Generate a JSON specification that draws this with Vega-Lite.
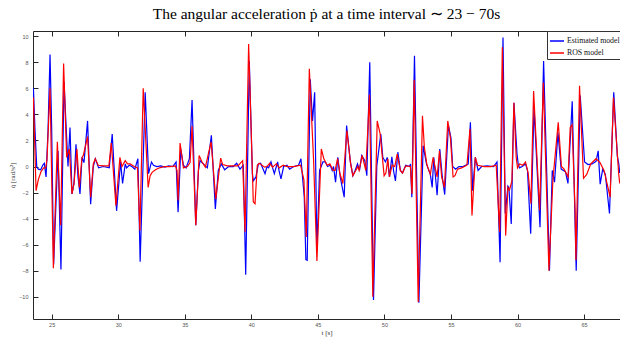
{
  "$schema": "https://vega.github.io/schema/vega-lite/v6.json",
  "autosize": "none",
  "width": 587,
  "height": 288,
  "padding": {"left": 33, "top": 31, "right": 0, "bottom": 21},
  "background": "white",
  "title": {"text": "The angular acceleration ṗ at a time interval ∼ 23 − 70s", "font": "Liberation Serif", "fontSize": 15.5, "fontWeight": "normal", "color": "black", "anchor": "middle", "offset": 8},
  "config": {"view": {"stroke": null}},
  "resolve": {"axis": {"x": "independent", "y": "independent"}},
  "layer": [
    {
      "data": {"values": [
        {"t":23.63,"v":6.0},{"t":23.75,"v":2.8},{"t":23.88,"v":0.0},{"t":24.0,"v":-0.2},{"t":24.18,"v":-0.25},{"t":24.33,"v":0.1},{"t":24.45,"v":0.25},{"t":24.58,"v":-0.8},{"t":24.73,"v":2.8},{"t":24.88,"v":8.6},{"t":25.0,"v":3.0},{"t":25.15,"v":-7.5},{"t":25.48,"v":1.2},{"t":25.7,"v":-7.9},{"t":25.93,"v":6.5},{"t":26.23,"v":0.0},{"t":26.38,"v":3.0},{"t":26.53,"v":-2.1},{"t":26.68,"v":-1.3},{"t":26.83,"v":1.7},{"t":26.98,"v":-0.8},{"t":27.13,"v":-2.1},{"t":27.28,"v":0.7},{"t":27.43,"v":0.3},{"t":27.7,"v":3.5},{"t":27.93,"v":-2.9},{"t":28.13,"v":0.0},{"t":28.28,"v":0.6},{"t":28.53,"v":-0.1},{"t":28.88,"v":0.0},{"t":29.33,"v":-0.1},{"t":29.55,"v":2.5},{"t":29.88,"v":-3.4},{"t":30.18,"v":0.35},{"t":30.33,"v":-1.3},{"t":30.53,"v":0.2},{"t":30.63,"v":-0.1},{"t":30.83,"v":0.1},{"t":31.03,"v":0.0},{"t":31.25,"v":-0.2},{"t":31.48,"v":0.6},{"t":31.65,"v":-7.3},{"t":32.03,"v":5.7},{"t":32.28,"v":-0.55},{"t":32.5,"v":0.35},{"t":32.65,"v":0.1},{"t":32.9,"v":0.0},{"t":33.2,"v":0.05},{"t":33.5,"v":-0.05},{"t":33.8,"v":0.05},{"t":34.1,"v":0.0},{"t":34.35,"v":0.35},{"t":34.5,"v":-3.5},{"t":34.7,"v":1.35},{"t":34.9,"v":0.1},{"t":35.1,"v":-0.1},{"t":35.35,"v":0.6},{"t":35.55,"v":5.1},{"t":35.83,"v":-4.5},{"t":36.03,"v":-0.3},{"t":36.15,"v":0.45},{"t":36.4,"v":0.2},{"t":36.7,"v":-0.1},{"t":37.0,"v":2.4},{"t":37.3,"v":-3.25},{"t":37.52,"v":-0.3},{"t":37.75,"v":0.2},{"t":38.0,"v":-0.25},{"t":38.3,"v":0.0},{"t":38.65,"v":0.0},{"t":38.9,"v":0.25},{"t":39.15,"v":-0.2},{"t":39.4,"v":0.1},{"t":39.58,"v":-8.3},{"t":39.85,"v":8.1},{"t":40.08,"v":-0.55},{"t":40.15,"v":-1.1},{"t":40.35,"v":-0.8},{"t":40.53,"v":0.2},{"t":40.7,"v":0.25},{"t":41.03,"v":-0.55},{"t":41.18,"v":0.0},{"t":41.3,"v":-0.1},{"t":41.48,"v":0.35},{"t":41.63,"v":-0.2},{"t":41.73,"v":-0.55},{"t":41.98,"v":0.35},{"t":42.08,"v":-0.3},{"t":42.23,"v":-0.95},{"t":42.43,"v":0.0},{"t":42.68,"v":0.1},{"t":42.88,"v":-0.2},{"t":43.18,"v":0.0},{"t":43.55,"v":0.1},{"t":43.73,"v":0.6},{"t":43.98,"v":-2.35},{"t":44.1,"v":-7.15},{"t":44.2,"v":-7.2},{"t":44.43,"v":6.7},{"t":44.6,"v":3.5},{"t":44.76,"v":5.7},{"t":44.93,"v":-6.5},{"t":45.13,"v":-0.3},{"t":45.38,"v":0.35},{"t":45.56,"v":0.35},{"t":45.73,"v":0.0},{"t":45.93,"v":0.1},{"t":46.08,"v":-0.3},{"t":46.18,"v":0.0},{"t":46.33,"v":-1.2},{"t":46.5,"v":0.7},{"t":46.68,"v":-0.8},{"t":46.98,"v":-2.35},{"t":47.16,"v":3.15},{"t":47.43,"v":0.45},{"t":47.63,"v":-0.7},{"t":47.8,"v":-0.3},{"t":47.98,"v":0.2},{"t":48.13,"v":-0.3},{"t":48.3,"v":0.85},{"t":48.53,"v":0.45},{"t":48.68,"v":-0.7},{"t":48.9,"v":8.0},{"t":49.18,"v":-10.25},{"t":49.43,"v":0.05},{"t":49.73,"v":2.5},{"t":49.88,"v":0.7},{"t":50.08,"v":0.35},{"t":50.21,"v":0.7},{"t":50.38,"v":-0.8},{"t":50.56,"v":0.75},{"t":50.7,"v":-0.4},{"t":50.83,"v":-1.1},{"t":51.01,"v":1.1},{"t":51.2,"v":-0.3},{"t":51.36,"v":-0.5},{"t":51.6,"v":0.1},{"t":51.9,"v":0.0},{"t":51.96,"v":0.2},{"t":52.06,"v":-2.35},{"t":52.26,"v":8.5},{"t":52.59,"v":-10.45},{"t":52.91,"v":1.6},{"t":53.16,"v":0.2},{"t":53.45,"v":-0.6},{"t":53.59,"v":-1.6},{"t":53.71,"v":0.7},{"t":53.96,"v":-2.2},{"t":54.16,"v":1.35},{"t":54.35,"v":-0.8},{"t":54.53,"v":-2.15},{"t":54.81,"v":3.15},{"t":55.0,"v":2.2},{"t":55.13,"v":0.0},{"t":55.35,"v":-0.2},{"t":55.6,"v":0.0},{"t":55.9,"v":0.0},{"t":56.3,"v":0.2},{"t":56.46,"v":3.4},{"t":56.63,"v":-1.85},{"t":56.83,"v":0.7},{"t":57.04,"v":-0.3},{"t":57.3,"v":0.0},{"t":57.7,"v":0.05},{"t":58.2,"v":0.0},{"t":58.46,"v":0.35},{"t":58.69,"v":-7.35},{"t":58.91,"v":9.9},{"t":59.08,"v":-3.6},{"t":59.28,"v":-1.5},{"t":59.35,"v":-1.6},{"t":59.53,"v":-4.4},{"t":59.73,"v":4.9},{"t":59.96,"v":1.0},{"t":60.05,"v":0.2},{"t":60.15,"v":-0.1},{"t":60.35,"v":0.0},{"t":60.6,"v":0.2},{"t":60.75,"v":-0.3},{"t":60.99,"v":-5.15},{"t":61.24,"v":4.55},{"t":61.69,"v":-4.65},{"t":61.96,"v":8.1},{"t":62.4,"v":-8.0},{"t":62.61,"v":-0.3},{"t":62.78,"v":-1.2},{"t":63.04,"v":2.6},{"t":63.28,"v":-0.2},{"t":63.45,"v":-0.3},{"t":63.6,"v":-0.4},{"t":63.79,"v":-1.3},{"t":64.11,"v":5.0},{"t":64.41,"v":-8.0},{"t":64.71,"v":5.45},{"t":65.04,"v":0.35},{"t":65.3,"v":0.15},{"t":65.6,"v":0.2},{"t":65.9,"v":0.4},{"t":66.06,"v":1.2},{"t":66.21,"v":-1.35},{"t":66.4,"v":-0.2},{"t":66.6,"v":-0.6},{"t":66.91,"v":-3.6},{"t":67.23,"v":5.7},{"t":67.5,"v":0.8},{"t":67.61,"v":0.2},{"t":67.68,"v":-0.5}
      ]},
      "mark": {"type": "line", "strokeWidth": 1.2, "clip": true},
      "encoding": {
        "x": {"field": "t", "type": "quantitative", "scale": {"domain": [23.6, 67.7], "nice": false, "zero": false},
          "axis": {"orient": "bottom", "values": [25,30,35,40,45,50,55,60,65], "labelOverlap": false, "title": "t [s]", "titleFont": "Liberation Serif", "titleFontSize": 7, "titleFontWeight": "normal", "titleColor": "#333", "titlePadding": 1, "labelFont": "Liberation Sans", "labelFontSize": 5.5, "labelColor": "#555", "labelPadding": 8, "tickSize": -5, "tickColor": "#262626", "domainColor": "#262626", "grid": false}},
        "y": {"field": "v", "type": "quantitative", "scale": {"domain": [-11.7, 10.4], "nice": false, "zero": false},
          "axis": {"orient": "left", "values": [-10,-8,-6,-4,-2,0,2,4,6,8,10], "labelOverlap": false, "title": "q̇ [rad/s²]", "titleFont": "Liberation Serif", "titleFontSize": 7, "titleFontWeight": "normal", "titleColor": "#333", "titlePadding": 3, "labelFont": "Liberation Sans", "labelFontSize": 5.5, "labelColor": "#555", "labelPadding": 10, "tickSize": -5, "tickColor": "#262626", "domainColor": "#262626", "grid": false}},
        "color": {"datum": "Estimated model", "type": "nominal", "scale": {"domain": ["Estimated model", "ROS model"], "range": ["#0000ff", "#ff0000"]},
          "legend": {"orient": "none", "legendX": 514, "legendY": 0, "title": null, "symbolType": "stroke", "symbolSize": 196, "symbolStrokeWidth": 1.5, "labelFont": "Liberation Serif", "labelFontSize": 7.8, "labelColor": "#111", "strokeColor": "#333", "fillColor": "white", "padding": 2, "rowPadding": 0, "labelOffset": 2}}
      }
    },
    {
      "data": {"values": [
        {"t":23.63,"v":5.3},{"t":23.83,"v":-1.85},{"t":24.0,"v":-1.0},{"t":24.2,"v":-0.4},{"t":24.4,"v":-0.1},{"t":24.55,"v":-0.1},{"t":24.65,"v":0.5},{"t":24.88,"v":6.0},{"t":25.13,"v":-7.8},{"t":25.43,"v":1.9},{"t":25.68,"v":-4.5},{"t":25.9,"v":7.9},{"t":26.13,"v":0.7},{"t":26.33,"v":1.35},{"t":26.53,"v":-2.1},{"t":26.68,"v":-1.3},{"t":26.9,"v":1.35},{"t":27.08,"v":-1.6},{"t":27.28,"v":0.7},{"t":27.38,"v":0.85},{"t":27.7,"v":2.3},{"t":27.93,"v":-2.35},{"t":28.13,"v":0.2},{"t":28.28,"v":0.6},{"t":28.5,"v":0.1},{"t":28.9,"v":0.05},{"t":29.3,"v":0.05},{"t":29.48,"v":1.8},{"t":29.83,"v":-3.0},{"t":30.13,"v":0.7},{"t":30.28,"v":0.0},{"t":30.53,"v":0.45},{"t":30.7,"v":0.2},{"t":30.9,"v":0.2},{"t":31.2,"v":0.0},{"t":31.45,"v":-0.1},{"t":31.63,"v":-4.9},{"t":31.88,"v":6.0},{"t":32.25,"v":-1.6},{"t":32.4,"v":-0.7},{"t":32.55,"v":-0.45},{"t":32.8,"v":-0.25},{"t":33.1,"v":-0.1},{"t":33.5,"v":0.0},{"t":33.9,"v":0.0},{"t":34.3,"v":0.05},{"t":34.42,"v":-0.3},{"t":34.5,"v":-2.6},{"t":34.65,"v":1.8},{"t":34.9,"v":-0.1},{"t":35.2,"v":0.0},{"t":35.4,"v":0.3},{"t":35.55,"v":3.1},{"t":35.83,"v":-4.5},{"t":36.08,"v":0.85},{"t":36.3,"v":0.35},{"t":36.55,"v":-0.05},{"t":36.98,"v":1.9},{"t":37.33,"v":-2.5},{"t":37.7,"v":0.65},{"t":37.85,"v":0.15},{"t":38.2,"v":0.05},{"t":38.6,"v":0.05},{"t":39.0,"v":0.05},{"t":39.35,"v":0.45},{"t":39.53,"v":-5.0},{"t":39.8,"v":9.4},{"t":40.15,"v":-2.7},{"t":40.28,"v":-2.85},{"t":40.45,"v":0.1},{"t":40.6,"v":0.25},{"t":41.0,"v":-0.05},{"t":41.18,"v":0.0},{"t":41.38,"v":0.25},{"t":41.6,"v":-0.05},{"t":41.88,"v":0.2},{"t":42.1,"v":-0.1},{"t":42.4,"v":0.1},{"t":42.7,"v":0.0},{"t":43.2,"v":0.0},{"t":43.7,"v":0.1},{"t":43.95,"v":-1.0},{"t":44.13,"v":-5.4},{"t":44.36,"v":7.5},{"t":44.68,"v":0.5},{"t":44.93,"v":-7.25},{"t":45.26,"v":1.35},{"t":45.45,"v":0.6},{"t":45.7,"v":0.1},{"t":45.9,"v":0.2},{"t":46.15,"v":-0.3},{"t":46.3,"v":-0.3},{"t":46.48,"v":0.6},{"t":46.65,"v":-0.5},{"t":46.88,"v":-1.3},{"t":47.18,"v":2.75},{"t":47.45,"v":0.3},{"t":47.63,"v":-0.7},{"t":47.85,"v":-0.3},{"t":48.0,"v":0.0},{"t":48.1,"v":-0.3},{"t":48.33,"v":0.85},{"t":48.6,"v":-0.3},{"t":48.88,"v":5.5},{"t":49.13,"v":-10.0},{"t":49.46,"v":3.5},{"t":49.68,"v":2.5},{"t":49.98,"v":-0.7},{"t":50.11,"v":-0.5},{"t":50.26,"v":0.6},{"t":50.38,"v":-0.8},{"t":50.58,"v":0.1},{"t":50.78,"v":0.0},{"t":50.96,"v":0.95},{"t":51.2,"v":-0.3},{"t":51.36,"v":-0.5},{"t":51.6,"v":0.05},{"t":51.95,"v":0.0},{"t":52.08,"v":-2.1},{"t":52.24,"v":6.65},{"t":52.54,"v":-10.4},{"t":52.86,"v":3.9},{"t":53.0,"v":1.5},{"t":53.2,"v":0.1},{"t":53.45,"v":-0.6},{"t":53.66,"v":0.7},{"t":53.96,"v":-0.8},{"t":54.14,"v":1.2},{"t":54.3,"v":-0.8},{"t":54.51,"v":-1.6},{"t":54.76,"v":3.5},{"t":54.96,"v":2.2},{"t":55.16,"v":-0.8},{"t":55.3,"v":-0.7},{"t":55.5,"v":-0.2},{"t":55.8,"v":-0.1},{"t":56.2,"v":0.1},{"t":56.43,"v":2.9},{"t":56.58,"v":-3.75},{"t":56.83,"v":0.7},{"t":57.0,"v":0.1},{"t":57.5,"v":0.0},{"t":58.0,"v":0.0},{"t":58.4,"v":0.1},{"t":58.66,"v":-5.0},{"t":58.86,"v":9.15},{"t":59.11,"v":-5.3},{"t":59.28,"v":-1.6},{"t":59.4,"v":-1.8},{"t":59.58,"v":-1.1},{"t":59.73,"v":4.9},{"t":59.9,"v":0.7},{"t":60.0,"v":-0.1},{"t":60.15,"v":0.2},{"t":60.4,"v":0.1},{"t":60.6,"v":0.35},{"t":60.8,"v":-0.5},{"t":61.01,"v":-2.85},{"t":61.21,"v":5.8},{"t":61.66,"v":-3.35},{"t":61.94,"v":6.45},{"t":62.36,"v":-8.0},{"t":62.66,"v":-1.0},{"t":63.06,"v":3.4},{"t":63.3,"v":0.0},{"t":63.5,"v":-0.2},{"t":63.8,"v":-0.8},{"t":63.96,"v":3.0},{"t":64.1,"v":3.2},{"t":64.33,"v":-3.5},{"t":64.39,"v":-7.2},{"t":64.66,"v":6.2},{"t":64.96,"v":-0.9},{"t":65.2,"v":-0.6},{"t":65.5,"v":0.2},{"t":65.9,"v":0.6},{"t":66.2,"v":0.3},{"t":66.5,"v":-0.3},{"t":66.96,"v":-2.35},{"t":67.21,"v":5.3},{"t":67.6,"v":-0.55},{"t":67.68,"v":-1.3}
      ]},
      "mark": {"type": "line", "strokeWidth": 1.2, "clip": true},
      "encoding": {
        "x": {"field": "t", "type": "quantitative", "scale": {"domain": [23.6, 67.7], "nice": false, "zero": false},
          "axis": {"orient": "top", "values": [25,30,35,40,45,50,55,60,65], "labels": false, "title": null, "tickSize": -5, "tickColor": "#262626", "domainColor": "#262626", "grid": false}},
        "y": {"field": "v", "type": "quantitative", "scale": {"domain": [-11.7, 10.4], "nice": false, "zero": false}, "axis": null},
        "color": {"datum": "ROS model", "type": "nominal"}
      }
    }
  ]
}
